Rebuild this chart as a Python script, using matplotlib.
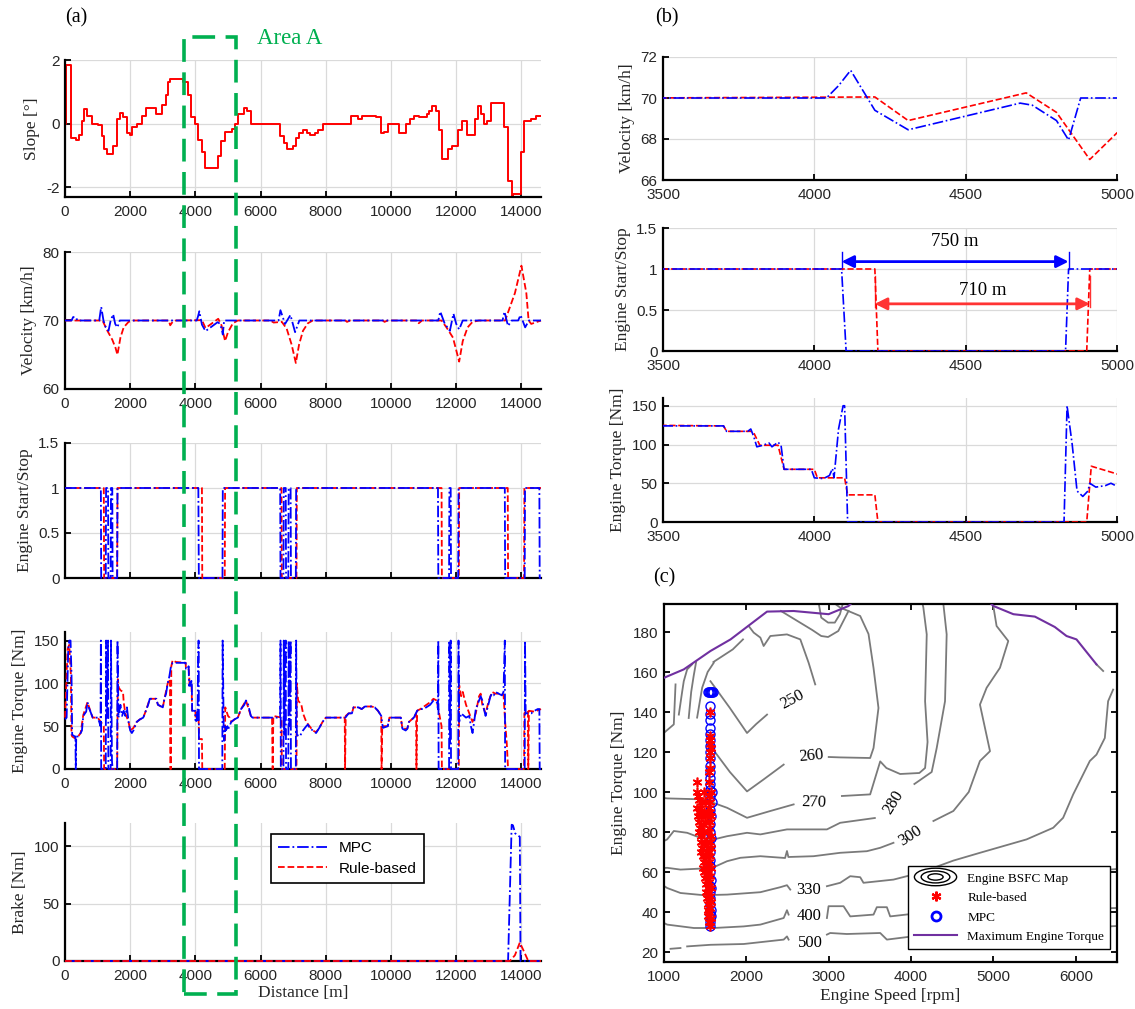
import numpy as np
import matplotlib
matplotlib.use('Agg')
import matplotlib.pyplot as plt
from matplotlib.patches import Rectangle, Ellipse
from matplotlib.lines import Line2D
from matplotlib.legend_handler import HandlerBase
from matplotlib import transforms

W, H = 1135, 1009
SERIF = 'Liberation Serif'
SANS = 'Liberation Sans'
plt.rcParams['font.family'] = SANS
plt.rcParams['font.size'] = 11
plt.rcParams['axes.unicode_minus'] = False

nan = np.nan

# ---------------- road slope [deg] vs distance [m] ----------------
slope_x = [0, 30, 190, 350, 430, 510, 590, 680, 820, 1010, 1120, 1190, 1300, 1480,
           1610, 1690, 1770, 1900, 2000, 2070, 2210, 2370, 2480, 2780, 2980, 3090,
           3170, 3230, 3610, 3780, 3880, 3990, 4090, 4200, 4290, 4690, 4800, 4910,
           5110, 5220, 5310, 5490, 5580, 5710, 6590, 6720, 6800, 6990, 7080, 7190,
           7300, 7410, 7520, 7680, 7770, 7900, 8770, 8990, 9100, 9540, 9680, 9790,
           9900, 10250, 10450, 10580, 10690, 10850, 11110, 11180, 11270, 11370,
           11460, 11570, 11760, 11870, 12060, 12190, 12330, 12580, 12660, 12750,
           12850, 12950, 13070, 13480, 13590, 13700, 13750, 13990, 14080, 14300,
           14460, 14600]
slope_deg = [0, 1.85, -0.45, -0.5, -0.35, 0.1, 0.45, 0.25, 0.0, -0.05, -0.4, -0.8,
             -0.95, -0.7, 0.15, 0.35, 0.2, -0.3, -0.35, -0.1, 0.0, 0.25, 0.5, 0.3,
             0.6, 0.9, 1.3, 1.4, 1.3, 0.9, 0.2, 0.0, -0.5, -0.9, -1.4, -1.0, -0.55,
             -0.25, -0.15, 0.0, 0.3, 0.5, 0.4, 0.0, -0.4, -0.6, -0.8, -0.7, -0.45,
             -0.3, -0.2, -0.3, -0.35, -0.3, -0.2, 0.0, 0.25, 0.15, 0.25, 0.2, -0.3,
             -0.25, 0.0, -0.3, 0.0, 0.15, 0.25, 0.2, 0.3, 0.4, 0.55, 0.4, -0.2, -1.1,
             -0.8, -0.7, -0.2, 0.1, -0.35, 0.15, 0.55, 0.3, 0.0, 0.1, 0.65, -0.1,
             -1.8, -2.3, -2.2, -0.9, 0.1, 0.15, 0.25, 0.25]

# ---------------- vehicle velocity [km/h] ----------------
vel_mpc_x = [0, 200, 250, 330, 380, 1050, 1110, 1180, 1250, 1335, 1400, 1477, 1540,
             1608, 1680, 4040, 4080, 4120, 4200, 4310, 4680, 4720, 4800, 4840, 4880,
             6550, 6608, 6750, 6915, 7057, 7188, 11450, 11510, 11650, 11805, 11914,
             12000, 12090, 12200, 13420, 13479, 13589, 13700, 13900, 13972, 14114,
             14230, 14600]
vel_mpc = [70, 70, 70.5, 70.5, 70, 70, 72, 70, 69, 68.5, 70, 70.9, 69.5, 69, 70, 70,
           70.6, 71.35, 69.4, 68.45, 69.75, 69.65, 68.9, 67.95, 70, 70, 71.5, 69.5,
           70.8, 68.3, 70, 70, 71.3, 69.5, 68.5, 71, 69.5, 68.7, 70, 70, 71.3, 69.2,
           70, 70, 70.8, 69, 70, 70]

vel_rb_x = [0, 1150, 1300, 1450, 1550, 1608, 1700, 1800, 1950, 2100, 3180, 3228,
            3300, 3400, 4200, 4310, 4700, 4800, 4910, 5000, 5150, 5300, 6300, 6400,
            6650, 6800, 6950, 7080, 7180, 7300, 7450, 7600, 8600, 8650, 8750, 9750,
            9800, 9900, 10800, 10850, 10950, 11550, 11700, 11900, 12090, 12200,
            12350, 12500, 12700, 13500, 13800, 14000, 14150, 14220, 14300, 14600]
vel_rb = [70, 70, 68.5, 67.2, 66, 65, 67.5, 69, 69.8, 70, 70, 69.3, 69.8, 70, 70.05,
          68.9, 70.25, 69.3, 67, 68.3, 69.6, 70, 70, 69.7, 69.8, 68.8, 66.5, 63.8,
          66.5, 68.5, 69.6, 70, 70, 69.8, 70, 70, 69.8, 70, 70, 69.6, 70, 70, 69,
          67.5, 64, 67, 69, 69.8, 70, 70, 74, 78, 74, 70, 69.5, 70]

# ---------------- engine on/off flag ----------------
ss_mpc_x = [0, 1100, 1110, 1250, 1260, 1320, 1330, 1400, 1410, 1450, 1460, 1600, 1610,
            4090, 4105, 4830, 4840, 6600, 6610, 6700, 6710, 6770, 6780, 6850, 6860,
            6920, 6930, 7080, 7090, 11440, 11450, 11780, 11790, 11830, 11840, 12060,
            12070, 13490, 13500, 14100, 14110, 14550, 14560, 14600]
ss_mpc = [1, 1, 0, 0, 1, 1, 0, 0, 1, 1, 0, 0, 1,
          1, 0, 0, 1, 1, 0, 0, 1, 1, 0, 0, 1,
          1, 0, 0, 1, 1, 0, 0, 1, 1, 0, 0,
          1, 1, 0, 0, 1, 1, 0, 0]

ss_rb_x = [0, 1190, 1200, 1600, 1610, 4200, 4210, 4900, 4910, 6640, 6650, 7100, 7110,
           11550, 11560, 12080, 12090, 13580, 13590, 14080, 14090, 14600]
ss_rb = [1, 1, 0, 0, 1, 1, 0, 0, 1, 1, 0, 0, 1, 1, 0, 0, 1, 1, 0, 0, 1, 1]

# ---------------- engine torque [Nm] ----------------
tq_mpc_x = [0, 50, 100, 130, 170, 200, 220, 300, 320, 330, 345, 400, 480, 520, 560,
            650, 690, 730, 800, 850, 1000, 1050, 1090, 1100, 1110, 1250, 1260, 1280,
            1320, 1330, 1400, 1410, 1440, 1460, 1600, 1610, 1640, 1700, 1750, 1800,
            1850, 1900, 1950, 2000, 2050, 2100, 2200, 2300, 2400, 2500, 2550, 2600,
            2800, 2850, 3000, 3050, 3100, 3150, 3200, 3250, 3300, 3700, 3710, 3780,
            3790, 3800, 3810, 3830, 3850, 3860, 3880, 3890, 3900, 3990, 4000, 4030,
            4050, 4060, 4065, 4080, 4095, 4100, 4110, 4825, 4835, 4852, 4868, 4887,
            4904, 4910, 4930, 4962, 4980, 5000, 5100, 5200, 5300, 5400, 5500, 5550,
            5600, 5700, 5750, 6600, 6610, 6620, 6700, 6710, 6730, 6770, 6780, 6850,
            6860, 6880, 6920, 6930, 7080, 7090, 7110, 7200, 7300, 7400, 7450, 7500,
            7600, 7700, 7800, 7900, 8000, 8600, 8700, 8800, 8850, 9000, 9100, 9200,
            9400, 9500, 9600, 9700, 9750, 9900, 9950, 10300, 10350, 10450, 10500,
            10550, 10700, 10800, 10900, 11000, 11200, 11300, 11400, 11440, 11450,
            11460, 11780, 11790, 11810, 11830, 11840, 12060, 12070, 12090, 12150,
            12300, 12400, 12450, 12500, 12550, 12600, 12700, 12750, 12800, 12850,
            12900, 12950, 13050, 13100, 13150, 13200, 13300, 13400, 13450, 13490,
            13500, 14100, 14110, 14130, 14300, 14400, 14500, 14550, 14560, 14600]
tq_mpc = [58, 60, 140, 150, 150, 110, 40, 38, 38, 0, 38, 38, 42, 45, 62,
          67, 78, 72, 65, 60, 60, 55, 50, 150, 0, 0, 150, 60,
          150, 0, 0, 150, 10, 0, 0, 150, 60, 75, 62, 68,
          62, 72, 55, 45, 42, 45, 55, 58, 60, 70, 75, 82,
          82, 75, 72, 82, 88, 100, 108, 120, 124, 124, 117, 117,
          120, 110, 97, 99, 102, 97, 103, 99, 68, 68, 57, 56,
          60, 69, 57, 120, 150, 150, 0, 0, 150, 100, 40, 33,
          40, 50, 45, 47, 50, 46, 55, 58, 60, 70, 75, 80,
          78, 62, 60, 60, 150, 0, 0, 150, 40, 150, 0, 0,
          150, 50, 150, 0, 0, 150, 40, 38, 45, 50, 52, 48,
          45, 42, 48, 55, 60, 60, 65, 65, 72, 72, 70, 73,
          73, 72, 68, 62, 48, 50, 60, 60, 47, 45, 47,
          55, 60, 68, 70, 70, 75, 80, 78, 70, 150,
          0, 0, 150, 30, 150, 0, 0, 150, 55, 65,
          60, 62, 50, 42, 55, 70, 80, 85, 80, 70,
          62, 70, 85, 88, 86, 90, 88, 86, 90, 150,
          0, 0, 150, 65, 65, 68, 70, 70, 0, 0]

tq_rb_x = [0, 80, 130, 180, 200, 220, 300, 400, 480, 560, 690, 800, 850, 1000, 1100,
           1190, 1200, 1600, 1620, 1650, 1700, 1780, 1800, 1850, 1950, 2000, 2100,
           2200, 2300, 2400, 2500, 2600, 2800, 2850, 3000, 3050, 3150, 3200, 3220,
           3230, 3250, 3260, 3300, 3400, 3700, 3710, 3790, 3800, 3820, 3880, 3900,
           4000, 4010, 4100, 4110, 4200, 4210, 4900, 4915, 5000, 5050, 5100, 5200,
           5300, 5400, 5550, 5700, 5750, 6350, 6370, 6390, 6640, 6650, 7100, 7110,
           7150, 7250, 7300, 7350, 7400, 7500, 7600, 7700, 7800, 7900, 8000, 8580,
           8590, 8610, 8700, 8800, 8850, 9000, 9100, 9200, 9400, 9500, 9600, 9700,
           9710, 9730, 9900, 9950, 10300, 10350, 10500, 10550, 10700, 10770, 10780,
           10800, 10900, 11200, 11300, 11400, 11550, 11560, 12080, 12090, 12150,
           12200, 12300, 12400, 12500, 12600, 12700, 12750, 12800, 12900, 13000,
           13100, 13200, 13300, 13450, 13500, 13550, 13590, 14080, 14090, 14150,
           14200, 14210, 14230, 14400, 14600]
tq_rb = [60, 140, 145, 110, 40, 38, 36, 38, 42, 63, 78, 65, 60, 60, 55,
         50, 0, 0, 105, 95, 92, 90, 78, 65, 55, 45, 48,
         55, 58, 60, 70, 82, 82, 75, 72, 82, 100, 105, 100,
         0, 0, 120, 127, 125, 124, 117, 117, 115, 99, 99, 68,
         68, 57, 57, 35, 35, 0, 0, 72, 62, 60, 55, 58,
         60, 70, 80, 62, 60, 60, 0, 62, 60, 0, 0, 100,
         80, 75, 65, 60, 55, 50, 45, 43, 48, 55, 60, 60,
         0, 62, 65, 65, 72, 72, 70, 73, 73, 72, 68, 62,
         0, 50, 50, 60, 60, 47, 47, 55, 60, 65, 0,
         68, 70, 78, 82, 80, 50, 0, 0, 98, 85,
         90, 75, 65, 55, 65, 85, 88, 75, 65, 80,
         90, 88, 88, 87, 55, 30, 0, 0, 65, 68,
         68, 0, 68, 67, 70]

# ---------------- brake torque [Nm] ----------------
br_mpc_x = [0, 13590, 13700, 13740, 13808, 13950, 13972, 14600]
br_mpc = [0, 0, 118.5, 118, 111, 108, 0, 0]
br_rb_x = [0, 13645, 13800, 13950, 14050, 14210, 14600]
br_rb = [0, 0, 5, 16, 10, 0, 0]

# engine-off stretches marked in (b)
mpc_off = (4090, 4840)
rb_off = (4200, 4910)

# ---------------- engine BSFC map iso-lines (rpm, Nm) ----------------
bsfc250_rpm = [1564, 1800, 2008, 2120, 2251, nan, 2836, 2756, 2655, 2493, 2291, 2210, 2170, 2089, 2028]
bsfc250_nm = [155.4, 142, 129.5, 134, 138.7, nan, 153.8, 164.6, 176.3, 178.8, 178, 173, 177.2, 179.7, 183]
bsfc260_rpm = [1564, 1800, 2008, 2200, 2453, nan, 3000, 3139, 3503, 3544, 3604, 3544, 3483, 3382, 3139, 3080]
bsfc260_nm = [123, 110, 100.3, 106, 113.7, nan, 117.5, 117.3, 117, 122, 142, 162, 179, 188, 192.2, 194]
bsfc270_rpm = [1000, 1038, 1483, 1766, 2008, 2291, 2574, nan, 3160, 3503, 3625, 3700, 3867, 4100, 4170, 4200, 4170, 4190, 4149, 4140]
bsfc270_nm = [97, 96.8, 96.3, 92.1, 87.1, 90.5, 93.8, nan, 98, 98.8, 115.3, 112, 109, 109.5, 112, 125, 145.4, 178.8, 192.2, 194]
bsfc280_rpm = [1000, 1038, 1119, 1281, 1442, 1604, 1766, 2008, 2170, 2493, 2978, 3139, 3560, nan, 4040, 4250, 4311, 4412, 4432, 4392]
bsfc280_nm = [75.5, 76.3, 80.5, 79.6, 77.1, 76.3, 77.9, 79.6, 78.8, 81.3, 81.3, 84.6, 87, nan, 104, 110, 122, 145.4, 178.8, 194]
bsfc300_rpm = [1000, 1038, 1200, 1442, 1604, 1766, 1927, 2170, 2470, 2493, 2510, 2816, 3139, 3463, 3625, 3786, nan, 4271, 4513, 4700, 4836, 4958, 4836, 4917, 5079, 5180, 5038, 4998]
bsfc300_nm = [62, 62.1, 61.2, 61.7, 62.4, 65.4, 67.1, 67.9, 67, 70.5, 67.5, 67.9, 69.6, 70.4, 72.1, 74.6, nan, 85.5, 90.5, 100, 115.5, 120.4, 143.7, 152.1, 162.1, 175.5, 183, 193]
bsfc330_rpm = [1000, 1038, 1200, 1483, 1766, 2170, 2412, 2493, 2533, nan, 2978, 3139, 3261, 3382, 3422, 3786, 4109, 4513, 4836, 5402, 5725, 5846, 5968, 6170, 6251, 6352, 6392, 6453]
bsfc330_nm = [53, 52, 49.5, 48.4, 48.7, 49.9, 52.4, 53.4, 51.2, nan, 52.9, 54.6, 57.9, 57.4, 54.6, 56.2, 59.6, 65.7, 69.6, 76.3, 82.1, 87.1, 98.8, 115.5, 118.7, 127, 145.4, 151.2]
bsfc400_rpm = [1000, 1038, 1362, 1604, 1968, 2170, 2453, 2493, 2513, nan, 2978, 2998, 3180, 3261, 3544, 3584, 3706, 3746, 4109, 4500, 5000, 5500, 6000, 6500]
bsfc400_nm = [34.5, 33.7, 32, 32, 32.8, 33.7, 37, 40.9, 38.7, nan, 37, 42.9, 42.9, 37.8, 38.7, 42.4, 42.4, 37.8, 39.5, 40, 40.5, 41, 41.5, 42]
bsfc500_rpm = [1079, 1200, nan, 1281, 1564, 1968, 2453, 2493, 2513, nan, 2978, 3018, 3220, 3625, 3706, 4190, 5000, 5500, 6000, 6500]
bsfc500_nm = [21.6, 22, nan, 22.8, 23.6, 24, 26.2, 27.8, 26.2, nan, 28.7, 29.5, 29, 29.5, 26.2, 28.7, 30, 31, 32, 33]

# short iso-line pieces near the full-load curve
edge_lines = [
    ([1000, 1119, 1140], [129.6, 133.8, 153.8]),
    ([1180, 1220, 1240, 1281, 1341], [138.7, 150, 155.4, 161.3, 163.8]),
    ([1300, 1330, 1360, 1390], [137, 150, 158, 165]),
    ([1402, 1463, 1530, 1604], [137.2, 152.1, 160, 164.6]),
    ([1600, 1835, 1959], [165, 171.3, 176.3]),
    ([2420, 2600, 2800, 2909, 2992, 3116, 3240], [190.5, 186, 181, 178, 177.5, 180.5, 190.5]),
    ([2880, 2909, 2992, 3074, 3136, 3170], [194, 187.2, 184.7, 184.7, 188.9, 194]),
    ([6251, 6332], [163.8, 160.5]),
    ([6350, 6500], [61, 61.5]),
]

maxtq_rpm = [1000, 1240, 1564, 1808, 2251, 2574, 2998, 3240, 3265, nan, 4975, 5000, 5242, 5503, 5745, 5887, 6008, 6251]
maxtq_nm = [157.1, 161.3, 170.5, 176.3, 190.2, 190.5, 188.9, 193, 194, nan, 194, 193, 188.9, 187.7, 182.5, 178, 176.3, 163.8]

contour_labels = ['250', '260', '270', '280', '300', '330', '400', '500']
label_rpm = [2553, 2790, 2816, 3790, 3995, 2756, 2760, 2780]
label_nm = [146.3, 117.8, 94.7, 95, 78, 51.2, 37.8, 24.5]
label_rot = [28, 5, -2, 58, 33, 0, 0, 0]

# operating points
rb_rpm = [1405, 1395, 1410, 1420, 1400, 1425, 1415, 1430, 1440, 1420, 1450, 1445, 1460,
          1455, 1470, 1480, 1475, 1490, 1500, 1510, 1505, 1520, 1530, 1535, 1540, 1545,
          1555, 1560, 1560, 1555, 1560, 1565, 1555, 1560, 1565, 1560, 1555, 1570, 1560,
          1550, 1565, 1555, 1570, 1545, 1560, 1550, 1565, 1540, 1560, 1550, 1565, 1555,
          1570, 1560, 1550, 1565, 1560, 1480, 1500, 1490, 1510, 1520, 1500, 1530, 1520,
          1535, 1540, 1530, 1545, 1460, 1480, 1440, 1470, 1500, 1520, 1535, 1540, 1455,
          1490, 1550, 1545, 1555, 1548, 1552]
rb_nm = [105, 100, 98, 96, 92, 90, 88, 85, 82, 80, 78, 75, 72,
         70, 68, 65, 62, 60, 57, 54, 50, 47, 44, 41, 38, 35,
         33, 140, 128, 126, 124, 122, 120, 117, 100, 95, 90, 88, 85,
         82, 78, 75, 72, 70, 68, 65, 62, 60, 58, 55, 52, 48,
         45, 42, 40, 37, 35, 90, 85, 80, 75, 70, 68, 65, 62,
         58, 52, 50, 46, 95, 100, 92, 84, 95, 88, 80, 72, 88,
         74, 110, 105, 112, 98, 92]

mpc_rpm = [1560, 1562, 1558, 1560, 1565, 1560, 1558, 1562, 1560, 1565, 1560, 1558,
           1562, 1560, 1560, 1565, 1560, 1558, 1575, 1560, 1580, 1562, 1580, 1560,
           1558, 1560, 1562, 1560, 1558, 1560, 1562, 1560, 1560, 1558, 1560, 1562,
           1560, 1535, 1545, 1555, 1565, 1575, 1585, 1595, 1575, 1575]
mpc_nm = [33, 35, 37, 39, 41, 44, 47, 50, 53, 56, 60, 63,
          66, 70, 73, 77, 80, 84, 88, 91, 95, 98, 100, 101,
          104, 107, 110, 113, 117, 120, 123, 126, 129, 132, 136, 139,
          143, 150, 150, 150, 150, 150, 150, 150, 52, 38]

C_MPC = '#0000ff'
C_RB = '#ff0000'
C_GREEN = '#00b050'
C_ISO = '#7a7a7a'
C_MAXTQ = '#7030a0'
TXT = '#262626'

fig = plt.figure(figsize=(W / 100, H / 100), dpi=100)


def px_axes(l, t, r, b):
    return fig.add_axes([l / W, 1 - b / H, (r - l) / W, (b - t) / H])


def matlab_style(ax, box=False, grid=True):
    for s in ['top', 'right']:
        ax.spines[s].set_visible(box)
    for s in ax.spines.values():
        s.set_linewidth(1.6)
    ax.tick_params(direction='in', length=4, width=1.3, labelsize=11,
                   labelcolor=TXT, color='black', top=box, right=box)
    ax.tick_params(axis='x', pad=6)
    ax.tick_params(axis='y', pad=4)
    if grid:
        ax.grid(True, color='#dadada', lw=0.9)
    ax.set_axisbelow(True)


def ylab(ax, text):
    ax.set_ylabel(text, fontfamily=SERIF, fontsize=12.5, color=TXT)


# ================= (a) whole route =================
xt = list(range(0, 14001, 2000))
ax_s = px_axes(65, 60, 541, 197)
ax_v = px_axes(65, 252, 541, 389)
ax_e = px_axes(65, 443, 541, 578)
ax_t = px_axes(65, 632, 541, 769)
ax_b = px_axes(65, 823, 541, 961)
for ax in (ax_s, ax_v, ax_e, ax_t, ax_b):
    matlab_style(ax)
    ax.set_xlim(0, 14600)
    ax.set_xticks(xt)

ax_s.step(slope_x, slope_deg, where='post', color=C_RB, lw=1.4)
ax_s.set_ylim(-2.3, 2)
ax_s.set_yticks([-2, 0, 2])
ylab(ax_s, 'Slope [°]')

kw_rb = dict(color=C_RB, ls='--', lw=1.3, zorder=3, clip_on=False)
kw_mpc = dict(color=C_MPC, ls='-.', lw=1.3, zorder=3, clip_on=False)

ax_v.plot(vel_rb_x, vel_rb, **kw_rb)
ax_v.plot(vel_mpc_x, vel_mpc, **kw_mpc)
ax_v.set_ylim(60, 80)
ax_v.set_yticks([60, 70, 80])
ylab(ax_v, 'Velocity [km/h]')

ax_e.plot(ss_rb_x, ss_rb, **kw_rb)
ax_e.plot(ss_mpc_x, ss_mpc, **kw_mpc)
ax_e.set_ylim(0, 1.5)
ax_e.set_yticks([0, 0.5, 1, 1.5])
ax_e.set_yticklabels(['0', '0.5', '1', '1.5'])
ax_e.tick_params(labelbottom=False)
ylab(ax_e, 'Engine Start/Stop')

ax_t.plot(tq_rb_x, tq_rb, **kw_rb)
ax_t.plot(tq_mpc_x, tq_mpc, **kw_mpc)
ax_t.set_ylim(0, 160)
ax_t.set_yticks([0, 50, 100, 150])
ylab(ax_t, 'Engine Torque [Nm]')

l_mpc, = ax_b.plot(br_mpc_x, br_mpc, **kw_mpc)
l_rb, = ax_b.plot(br_rb_x, br_rb, **kw_rb)
ax_b.set_ylim(0, 120)
ax_b.set_yticks([0, 50, 100])
ylab(ax_b, 'Brake [Nm]')
ax_b.set_xlabel('Distance [m]', fontfamily=SERIF, fontsize=12.5, color=TXT, labelpad=1)
leg = ax_b.legend([l_mpc, l_rb], ['MPC', 'Rule-based'], loc='upper left',
                  bbox_to_anchor=(271 / W, 1 - 834 / H), bbox_transform=fig.transFigure,
                  borderaxespad=0, fancybox=False, framealpha=1, edgecolor='black',
                  fontsize=11, handlelength=3.2, borderpad=0.45, labelspacing=0.45)
leg.get_frame().set_linewidth(1.2)

# Area A frame spanning the left column
blend = transforms.blended_transform_factory(ax_s.transData, fig.transFigure)
fig.add_artist(Rectangle((3650, 1 - 994 / H), 1600, (994 - 37) / H, transform=blend,
                         fill=False, edgecolor=C_GREEN, lw=2.6, ls=(0, (6.3, 2.9)),
                         clip_on=False, zorder=10))
fig.text(5880, 1 - 38 / H, 'Area A', transform=blend, color=C_GREEN,
         fontfamily=SERIF, fontsize=16.5, ha='left', va='center')

# ================= (b) zoom on 3500-5000 m =================
bx = [3500, 4000, 4500, 5000]
bv = px_axes(663, 57, 1117, 180)
be = px_axes(663, 228, 1117, 351)
bt = px_axes(663, 398, 1117, 522)
for ax in (bv, be, bt):
    matlab_style(ax)
    ax.set_xlim(3500, 5000)
    ax.set_xticks(bx)

kwb_rb = dict(color=C_RB, ls='--', lw=1.2, zorder=3)
kwb_mpc = dict(color=C_MPC, ls='-.', lw=1.2, zorder=3)

bv.plot(vel_rb_x, vel_rb, **kwb_rb)
bv.plot(vel_mpc_x, vel_mpc, **kwb_mpc)
bv.set_ylim(66, 72)
bv.set_yticks([66, 68, 70, 72])
ylab(bv, 'Velocity [km/h]')

be.plot(ss_rb_x, ss_rb, **kwb_rb)
be.plot(ss_mpc_x, ss_mpc, **kwb_mpc)
be.set_ylim(0, 1.5)
be.set_yticks([0, 0.5, 1, 1.5])
be.set_yticklabels(['0', '0.5', '1', '1.5'])
ylab(be, 'Engine Start/Stop')

# engine-off distance markers
be.plot([mpc_off[0]] * 2, [1.0, 1.21], color=C_MPC, lw=1)
be.plot([mpc_off[1]] * 2, [1.0, 1.21], color=C_MPC, lw=1)
be.annotate('', xy=(mpc_off[1], 1.09), xytext=(mpc_off[0], 1.09),
            arrowprops=dict(arrowstyle='<|-|>', color=C_MPC, lw=2, mutation_scale=18,
                            shrinkA=0, shrinkB=0))
be.text(sum(mpc_off) / 2, 1.23, f'{mpc_off[1] - mpc_off[0]} m', fontfamily=SERIF,
        fontsize=13.5, ha='center', va='bottom', color='black')
be.plot([rb_off[0]] * 2, [0.54, 0.91], color='#ff3333', lw=1)
be.plot([rb_off[1]] * 2, [0.54, 0.91], color='#ff3333', lw=1)
be.annotate('', xy=(rb_off[1], 0.575), xytext=(rb_off[0], 0.575),
            arrowprops=dict(arrowstyle='<|-|>', color='#ff3333', lw=2, mutation_scale=18,
                            shrinkA=0, shrinkB=0))
be.text(sum(rb_off) / 2, 0.64, f'{rb_off[1] - rb_off[0]} m', fontfamily=SERIF,
        fontsize=13.5, ha='center', va='bottom', color='black')

bt.plot(tq_rb_x, tq_rb, **kwb_rb)
bt.plot(tq_mpc_x, tq_mpc, **kwb_mpc)
bt.set_ylim(0, 160)
bt.set_yticks([0, 50, 100, 150])
ylab(bt, 'Engine Torque [Nm]')

# ================= (c) BSFC map =================
cx = px_axes(664, 604, 1117, 962)
matlab_style(cx, box=True, grid=False)
cx.set_xlim(1000, 6500)
cx.set_ylim(15, 194)
cx.set_xticks([1000, 2000, 3000, 4000, 5000, 6000])
cx.set_yticks(list(range(20, 181, 20)))

iso_sets = [(bsfc250_rpm, bsfc250_nm), (bsfc260_rpm, bsfc260_nm), (bsfc270_rpm, bsfc270_nm),
            (bsfc280_rpm, bsfc280_nm), (bsfc300_rpm, bsfc300_nm), (bsfc330_rpm, bsfc330_nm),
            (bsfc400_rpm, bsfc400_nm), (bsfc500_rpm, bsfc500_nm)] + edge_lines
for rpm, nm in iso_sets:
    cx.plot(rpm, nm, color=C_ISO, lw=1.3, zorder=2)
for txt, xr, yn, rot in zip(contour_labels, label_rpm, label_nm, label_rot):
    cx.text(xr, yn, txt, rotation=rot, fontfamily=SERIF, fontsize=12, ha='center',
            va='center', color='black', zorder=2)

cx.plot(maxtq_rpm, maxtq_nm, color=C_MAXTQ, lw=1.5, zorder=3)
cx.plot(mpc_rpm, mpc_nm, ls='none', marker='o', ms=6.5, mfc='none', mec=C_MPC, mew=1.0, zorder=4)
cx.plot(rb_rpm, rb_nm, ls='none', marker=(6, 2, 0), ms=7, mec=C_RB, mew=1.2, zorder=5)
cx.set_xlabel('Engine Speed [rpm]', fontfamily=SERIF, fontsize=12.5, color=TXT, labelpad=3)
ylab(cx, 'Engine Torque [Nm]')


class BsfcKey:
    pass


class HandlerRings(HandlerBase):
    def create_artists(self, legend, orig_handle, xdescent, ydescent, width, height,
                       fontsize, trans):
        x0 = width / 2 - xdescent
        y0 = height / 2 - ydescent
        rings = []
        for k in (1.0, 0.68, 0.36):
            rings.append(Ellipse((x0, y0), width * k, height * 1.9 * k, fill=False,
                                 edgecolor='black', lw=1.0, transform=trans))
        return rings


h_rb = Line2D([], [], ls='none', marker=(6, 2, 0), ms=7, mec=C_RB, mew=1.6)
h_mpc = Line2D([], [], ls='none', marker='o', ms=6.5, mfc='none', mec=C_MPC, mew=2)
h_max = Line2D([], [], color=C_MAXTQ, lw=1.5)
leg_c = cx.legend([BsfcKey(), h_rb, h_mpc, h_max],
                  ['Engine BSFC Map', 'Rule-based', 'MPC', 'Maximum Engine Torque'],
                  handler_map={BsfcKey: HandlerRings()}, loc='lower right',
                  bbox_to_anchor=(1110 / W, 1 - 949 / H), bbox_transform=fig.transFigure,
                  borderaxespad=0, fancybox=False, framealpha=1, edgecolor='black',
                  prop={'family': SERIF, 'size': 9.5}, handlelength=3.2,
                  labelspacing=0.55, borderpad=0.45)
leg_c.get_frame().set_linewidth(1.0)

# panel tags
for tag, x, y in [('(a)', 65, 18), ('(b)', 655, 18), ('(c)', 653, 578)]:
    fig.text(x / W, 1 - y / H, tag, fontfamily=SERIF, fontsize=14.5, ha='left', va='center')

fig.savefig('out.png', dpi=100)
